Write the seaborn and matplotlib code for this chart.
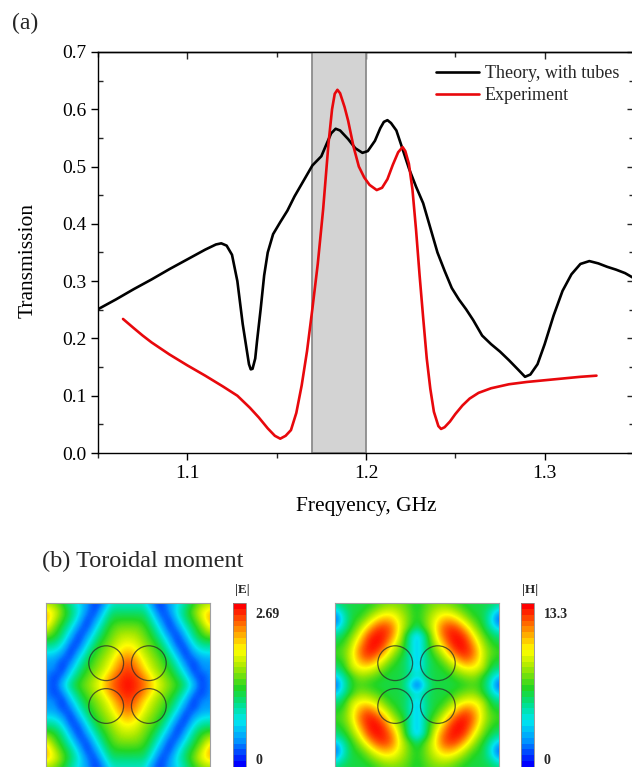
import numpy as np
import pandas as pd
import matplotlib
matplotlib.use("Agg")
import matplotlib.pyplot as plt
import seaborn as sns
from matplotlib.colors import LinearSegmentedColormap, Normalize
from matplotlib.cm import ScalarMappable
from matplotlib.patches import Circle
from matplotlib.ticker import MultipleLocator, FormatStrFormatter

# ---------------- data: panel (a) ----------------
theory_freq = [1.050, 1.060, 1.070, 1.080, 1.090, 1.100, 1.110, 1.116, 1.119, 1.122,
               1.125, 1.128, 1.131, 1.133, 1.1345, 1.1355, 1.1365, 1.138, 1.139, 1.141,
               1.143, 1.145, 1.148, 1.152, 1.156, 1.160, 1.165, 1.170, 1.175, 1.178,
               1.1805, 1.1830, 1.1855, 1.190, 1.194, 1.198, 1.201, 1.205, 1.208, 1.210,
               1.212, 1.214, 1.217, 1.220, 1.224, 1.228, 1.232, 1.236, 1.240, 1.244,
               1.248, 1.252, 1.256, 1.260, 1.265, 1.270, 1.275, 1.280, 1.285, 1.289,
               1.292, 1.296, 1.300, 1.305, 1.310, 1.315, 1.320, 1.325, 1.330, 1.335,
               1.340, 1.345, 1.350]
theory_trans = [0.251, 0.268, 0.286, 0.303, 0.321, 0.338, 0.355, 0.364, 0.366, 0.362,
                0.346, 0.300, 0.225, 0.185, 0.155, 0.146, 0.147, 0.165, 0.195, 0.250,
                0.310, 0.350, 0.382, 0.403, 0.423, 0.448, 0.475, 0.502, 0.518, 0.540,
                0.558, 0.566, 0.563, 0.548, 0.532, 0.524, 0.527, 0.545, 0.567, 0.578,
                0.581, 0.576, 0.563, 0.535, 0.497, 0.465, 0.436, 0.393, 0.350, 0.318,
                0.288, 0.268, 0.251, 0.232, 0.205, 0.190, 0.177, 0.162, 0.146, 0.133,
                0.137, 0.155, 0.190, 0.240, 0.283, 0.312, 0.330, 0.335, 0.331, 0.325,
                0.320, 0.314, 0.305]

exp_freq = [1.064, 1.070, 1.075, 1.080, 1.090, 1.100, 1.110, 1.120, 1.128, 1.135,
            1.140, 1.145, 1.149, 1.152, 1.155, 1.158, 1.161, 1.164, 1.167, 1.170,
            1.173, 1.176, 1.179, 1.181, 1.1825, 1.1840, 1.1855, 1.188, 1.190, 1.193,
            1.196, 1.199, 1.202, 1.206, 1.209, 1.212, 1.215, 1.218, 1.2205, 1.222,
            1.224, 1.226, 1.228, 1.230, 1.232, 1.234, 1.236, 1.238, 1.2405, 1.242,
            1.244, 1.247, 1.250, 1.254, 1.258, 1.263, 1.270, 1.280, 1.290, 1.300,
            1.310, 1.320, 1.329]
exp_trans = [0.234, 0.218, 0.205, 0.193, 0.172, 0.153, 0.135, 0.116, 0.100, 0.079,
             0.062, 0.043, 0.030, 0.025, 0.030, 0.040, 0.070, 0.118, 0.178, 0.252,
             0.330, 0.425, 0.540, 0.600, 0.627, 0.634, 0.628, 0.604, 0.580, 0.535,
             0.500, 0.481, 0.468, 0.459, 0.463, 0.478, 0.503, 0.525, 0.534, 0.527,
             0.505, 0.460, 0.390, 0.310, 0.236, 0.165, 0.112, 0.072, 0.047, 0.042,
             0.045, 0.055, 0.068, 0.083, 0.095, 0.105, 0.113, 0.120, 0.124, 0.127,
             0.130, 0.133, 0.135]

band_low, band_high = 1.17, 1.20
x_ticks = [1.1, 1.2, 1.3]
y_ticks = [0.0, 0.1, 0.2, 0.3, 0.4, 0.5, 0.6, 0.7]

# ---------------- data: panel (b) field maps ----------------
# values are fractions of the colour-bar maximum, read on a 0.05 grid over the
# upper-left quarter of each (symmetric) unit cell; rows = y from top, cols = x from left
e_max = 2.69
h_max = 13.3
E_quarter = np.array([
    [0.61, 0.56, 0.47, 0.37, 0.25, 0.17, 0.05, 0.12, 0.31, 0.32, 0.32],
    [0.78, 0.70, 0.55, 0.42, 0.30, 0.13, 0.05, 0.23, 0.40, 0.40, 0.40],
    [0.83, 0.65, 0.50, 0.40, 0.23, 0.05, 0.13, 0.33, 0.46, 0.48, 0.48],
    [0.72, 0.55, 0.44, 0.31, 0.12, 0.05, 0.24, 0.41, 0.51, 0.56, 0.56],
    [0.55, 0.49, 0.39, 0.20, 0.04, 0.15, 0.34, 0.46, 0.55, 0.62, 0.64],
    [0.40, 0.39, 0.29, 0.09, 0.06, 0.26, 0.42, 0.52, 0.59, 0.68, 0.72],
    [0.28, 0.27, 0.18, 0.03, 0.17, 0.36, 0.48, 0.56, 0.63, 0.75, 0.80],
    [0.17, 0.17, 0.07, 0.09, 0.29, 0.43, 0.53, 0.60, 0.70, 0.82, 0.90],
    [0.15, 0.15, 0.03, 0.20, 0.37, 0.48, 0.56, 0.64, 0.75, 0.88, 0.94],
    [0.15, 0.05, 0.11, 0.31, 0.44, 0.53, 0.61, 0.71, 0.85, 0.94, 0.97],
    [0.14, 0.05, 0.22, 0.40, 0.50, 0.57, 0.66, 0.77, 0.89, 0.95, 1.00],
])
H_quarter = np.array([
    [0.39, 0.44, 0.45, 0.45, 0.45, 0.50, 0.54, 0.56, 0.55, 0.51, 0.45],
    [0.22, 0.35, 0.45, 0.45, 0.52, 0.59, 0.66, 0.67, 0.61, 0.54, 0.46],
    [0.03, 0.30, 0.45, 0.51, 0.61, 0.74, 0.82, 0.78, 0.67, 0.55, 0.46],
    [0.22, 0.35, 0.48, 0.60, 0.77, 0.92, 0.95, 0.88, 0.68, 0.54, 0.40],
    [0.39, 0.44, 0.56, 0.71, 0.92, 0.99, 0.97, 0.86, 0.64, 0.38, 0.20],
    [0.45, 0.50, 0.62, 0.82, 0.97, 1.00, 0.94, 0.75, 0.58, 0.38, 0.20],
    [0.50, 0.54, 0.67, 0.88, 0.97, 0.96, 0.82, 0.63, 0.52, 0.38, 0.20],
    [0.46, 0.50, 0.67, 0.81, 0.90, 0.80, 0.66, 0.54, 0.45, 0.38, 0.20],
    [0.39, 0.44, 0.64, 0.71, 0.71, 0.64, 0.55, 0.46, 0.45, 0.38, 0.20],
    [0.22, 0.35, 0.48, 0.59, 0.57, 0.53, 0.46, 0.45, 0.45, 0.39, 0.30],
    [0.03, 0.30, 0.47, 0.51, 0.49, 0.45, 0.45, 0.45, 0.45, 0.30, 0.00],
])
tube_x = [0.367, 0.627, 0.367, 0.627]
tube_y = [0.367, 0.367, 0.628, 0.628]


def unfold(q):
    """Build the full symmetric cell from its upper-left quarter."""
    top = np.hstack([q, q[:, -2::-1]])
    return np.vstack([top, top[-2::-1]])


# ---------------- style ----------------
sns.set_theme(style="ticks")
plt.rcParams["font.family"] = ["Liberation Serif", "DejaVu Serif"]
plt.rcParams["axes.linewidth"] = 1.0
plt.rcParams["axes.edgecolor"] = "black"

W, H = 632, 767
fig = plt.figure(figsize=(W / 100, H / 100), dpi=100)

# ---------------- panel (a) ----------------
ax = fig.add_axes([98 / W, 1 - 453 / H, (634 - 98) / W, (453 - 52) / H])
ax.axvspan(band_low, band_high, facecolor="#d3d3d3", edgecolor="#8c8c8c", lw=1.3, zorder=0.5)

df_t = pd.DataFrame({"f": theory_freq, "T": theory_trans})
df_e = pd.DataFrame({"f": exp_freq, "T": exp_trans})
sns.lineplot(data=df_t, x="f", y="T", ax=ax, color="black", lw=1.9, estimator=None,
             sort=False, label="Theory, with tubes")
sns.lineplot(data=df_e, x="f", y="T", ax=ax, color="#e8080c", lw=1.9, estimator=None,
             sort=False, label="Experiment")

ax.set_xlim(1.05, 1.35)
ax.set_ylim(0.0, 0.7)
ax.set_xticks(x_ticks)
ax.set_yticks(y_ticks)
ax.xaxis.set_major_formatter(FormatStrFormatter("%.1f"))
ax.yaxis.set_major_formatter(FormatStrFormatter("%.1f"))
ax.xaxis.set_minor_locator(MultipleLocator(0.05))
ax.yaxis.set_minor_locator(MultipleLocator(0.05))
ax.tick_params(axis="both", which="major", labelsize=14, length=5, width=1, colors="black")
ax.tick_params(axis="both", which="minor", length=3.5, width=1)
ax.tick_params(axis="x", which="both", direction="out")
ax.tick_params(axis="y", which="major", direction="out")
ax.tick_params(axis="y", which="minor", direction="in")

top = ax.secondary_xaxis("top")
top.set_xticks(x_ticks)
top.xaxis.set_minor_locator(MultipleLocator(0.05))
top.tick_params(which="major", direction="in", length=5, width=1, labeltop=False)
top.tick_params(which="minor", direction="in", length=3.5, width=1)
right = ax.secondary_yaxis("right")
right.set_yticks(y_ticks)
right.yaxis.set_minor_locator(MultipleLocator(0.05))
right.tick_params(which="major", direction="in", length=5, width=1, labelright=False)
right.tick_params(which="minor", direction="in", length=3.5, width=1)

ax.set_xlabel("Freqyency, GHz", fontsize=15.5, color="black")
ax.set_ylabel("Transmission", fontsize=15.5, color="black")
ax.xaxis.set_label_coords(0.5, (453 - 497) / 401)
ax.yaxis.set_label_coords((38 - 98) / 536, (453 - 260) / 401)

ax.legend(loc="upper left", bbox_to_anchor=((436 - 98) / 536, (453 - 65) / 401),
          frameon=False, fontsize=13, handlelength=2.4, handletextpad=0.3,
          labelspacing=0.3, borderpad=0, borderaxespad=0)

fig.text(12 / W, 1 - 23 / H, "(a)", fontsize=17, va="center", ha="left")
fig.text(42 / W, 1 - 561 / H, "(b) Toroidal moment", fontsize=17.5, va="center", ha="left")

# ---------------- panel (b) ----------------
cmap = LinearSegmentedColormap.from_list(
    "field",
    [(0.0, "#0000ff"), (0.15, "#0096ff"), (0.27, "#00e6f0"), (0.38, "#00e08c"),
     (0.48, "#22d622"), (0.61, "#a6e800"), (0.72, "#ffff00"), (0.83, "#ffa000"),
     (1.0, "#ff0000")])


def field_map(x0, cx0, quarter, vmax, name):
    values = unfold(quarter) * vmax
    n = values.shape[0]
    half = 0.5 / (n - 1)
    axm = fig.add_axes([x0 / W, 0, 164 / W, 164 / H])
    axm.imshow(values, cmap=cmap, vmin=0, vmax=vmax, interpolation="bicubic",
               extent=(-half, 1 + half, 1 + half, -half), aspect="auto")
    axm.set_xlim(0, 1)
    axm.set_ylim(1, 0)
    axm.set_xticks([])
    axm.set_yticks([])
    for s in axm.spines.values():
        s.set_edgecolor("#a0a0a0")
        s.set_linewidth(0.8)
    for cx, cy in zip(tube_x, tube_y):
        axm.add_patch(Circle((cx, cy), 0.106, fill=False, ec="#2a2a2a", lw=0.9, alpha=0.75))
    cax = fig.add_axes([cx0 / W, 0, 13 / W, 164 / H])
    sm = ScalarMappable(norm=Normalize(0, vmax), cmap=cmap.resampled(28))
    cb = fig.colorbar(sm, cax=cax, ticks=[])
    cb.outline.set_edgecolor("#8a8a8a")
    cb.outline.set_linewidth(0.6)
    cax.annotate(f"{vmax:g}", xy=(1, vmax), xycoords=("axes fraction", "data"),
                 xytext=(7, -8.6), textcoords="offset points", fontsize=10,
                 fontweight="bold", va="center", ha="left")
    cax.annotate("0", xy=(1, 0), xycoords=("axes fraction", "data"),
                 xytext=(7, 5), textcoords="offset points", fontsize=10,
                 fontweight="bold", va="center", ha="left")
    cax.annotate(name, xy=(0.5, 1), xycoords="axes fraction", xytext=(2, 9.4),
                 textcoords="offset points", fontsize=9.5, fontweight="bold",
                 va="center", ha="center")


field_map(46, 233, E_quarter, e_max, "|E|")
field_map(335, 521, H_quarter, h_max, "|H|")

fig.savefig("out.png", dpi=100)
